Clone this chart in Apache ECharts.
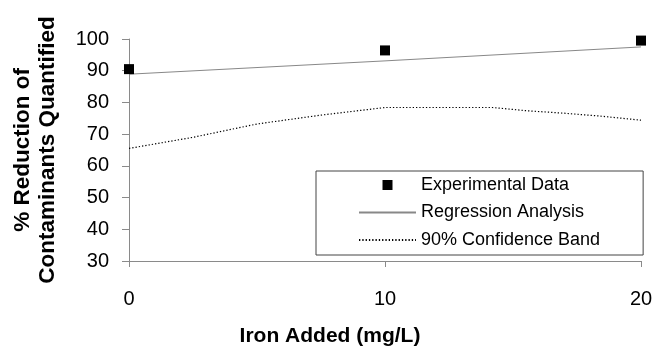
<!DOCTYPE html>
<html>
<head>
<meta charset="utf-8">
<script src="https://cdn.jsdelivr.net/npm/echarts@6/dist/echarts.min.js"></script>
<style>
html, body { margin: 0; padding: 0; background: #fff; }
#chart { width: 653px; height: 347px; }
</style>
</head>
<body>
<div id="chart"></div>
<script>
// data
var expX = [0, 10, 20]
var expY = [90.5, 96.4, 99.5]

var regX = [0, 10, 20]
var regY = [88.9, 93.1, 97.5]

var bandX = [0, 2.5, 5, 7.5, 10, 14.2, 15.5, 17, 18.4, 20]
var bandY = [65.5, 69, 73.2, 76, 78.4, 78.4, 77.4, 76.6, 75.7, 74.4]

var xTicks = [0, 10, 20]
var yTicks = [30, 40, 50, 60, 70, 80, 90, 100]

var names = ['Experimental Data', 'Regression Analysis', '90% Confidence Band']

function pairs(xs, ys) {
	let out = []
	for (var i = 0; i < xs.length; i++) {
		out.push([xs[i], ys[i]])
	}
	return out
}

var font = "'Liberation Sans', Arial, sans-serif"
var axisGray = '#8a8a8a'

var chart = echarts.init(document.getElementById('chart'), null, { renderer: 'canvas' })

option = {
	backgroundColor: '#ffffff',
	animation: false,
	textStyle: { fontFamily: font },
	grid: {
		left: 129,
		right: 12,
		top: 39,
		bottom: 86,
		outerBoundsMode: 'none'
	},
	legend: {
		orient: 'vertical',
		left: 316,
		top: 171,
		padding: [4, 43, 5, 42],
		itemWidth: 57,
		itemHeight: 10,
		itemGap: 7.5,
		borderColor: '#444',
		borderWidth: 1,
		backgroundColor: '#fff',
		textStyle: { fontSize: 18, color: '#000', fontFamily: font, lineHeight: 20 },
		data: [
			{ name: names[0], icon: 'path://M0,0L10,0L10,10L0,10Z', itemStyle: { color: '#000', opacity: 1 } },
			{ name: names[1], itemStyle: { opacity: 0 } },
			{ name: names[2], itemStyle: { opacity: 0 } }
		]
	},
	xAxis: {
		type: 'value',
		min: xTicks[0],
		max: xTicks[xTicks.length - 1],
		interval: 10,
		name: 'Iron Added (mg/L)',
		nameLocation: 'middle',
		nameGap: 65,
		nameTextStyle: { fontSize: 21, fontWeight: 'bold', color: '#000', fontFamily: font, padding: [0, 110, 0, 0] },
		axisLine: { show: true, lineStyle: { color: axisGray, width: 1 } },
		axisTick: { show: true, length: 6, lineStyle: { color: axisGray } },
		axisLabel: { fontSize: 20, color: '#000', margin: 28, fontFamily: font },
		splitLine: { show: false }
	},
	yAxis: {
		type: 'value',
		min: yTicks[0],
		max: yTicks[yTicks.length - 1],
		interval: 10,
		name: '% Reduction of\nContaminants Quantified',
		nameLocation: 'middle',
		nameGap: 69,
		nameTextStyle: { fontSize: 22.5, fontWeight: 'bold', color: '#000', fontFamily: font, lineHeight: 25 },
		axisLine: { show: true, onZero: false, lineStyle: { color: axisGray, width: 1 } },
		axisTick: { show: true, length: 7, lineStyle: { color: axisGray } },
		axisLabel: { fontSize: 20, color: '#000', margin: 20, fontFamily: font },
		splitLine: { show: false }
	},
	series: [
		{
			name: names[0],
			type: 'scatter',
			symbol: 'rect',
			symbolSize: 10,
			itemStyle: { color: '#000', opacity: 1 },
			data: pairs(expX, expY),
			z: 5
		},
		{
			name: names[1],
			type: 'line',
			symbol: 'none',
			lineStyle: { color: '#888', width: 1 },
			itemStyle: { color: '#888' },
			data: pairs(regX, regY)
		},
		{
			name: names[2],
			type: 'line',
			symbol: 'none',
			lineStyle: { color: '#000', width: 1.2, type: [1.3, 2] },
			itemStyle: { color: '#000' },
			data: pairs(bandX, bandY)
		}
	]
}

chart.setOption(option)
</script>
</body>
</html>
